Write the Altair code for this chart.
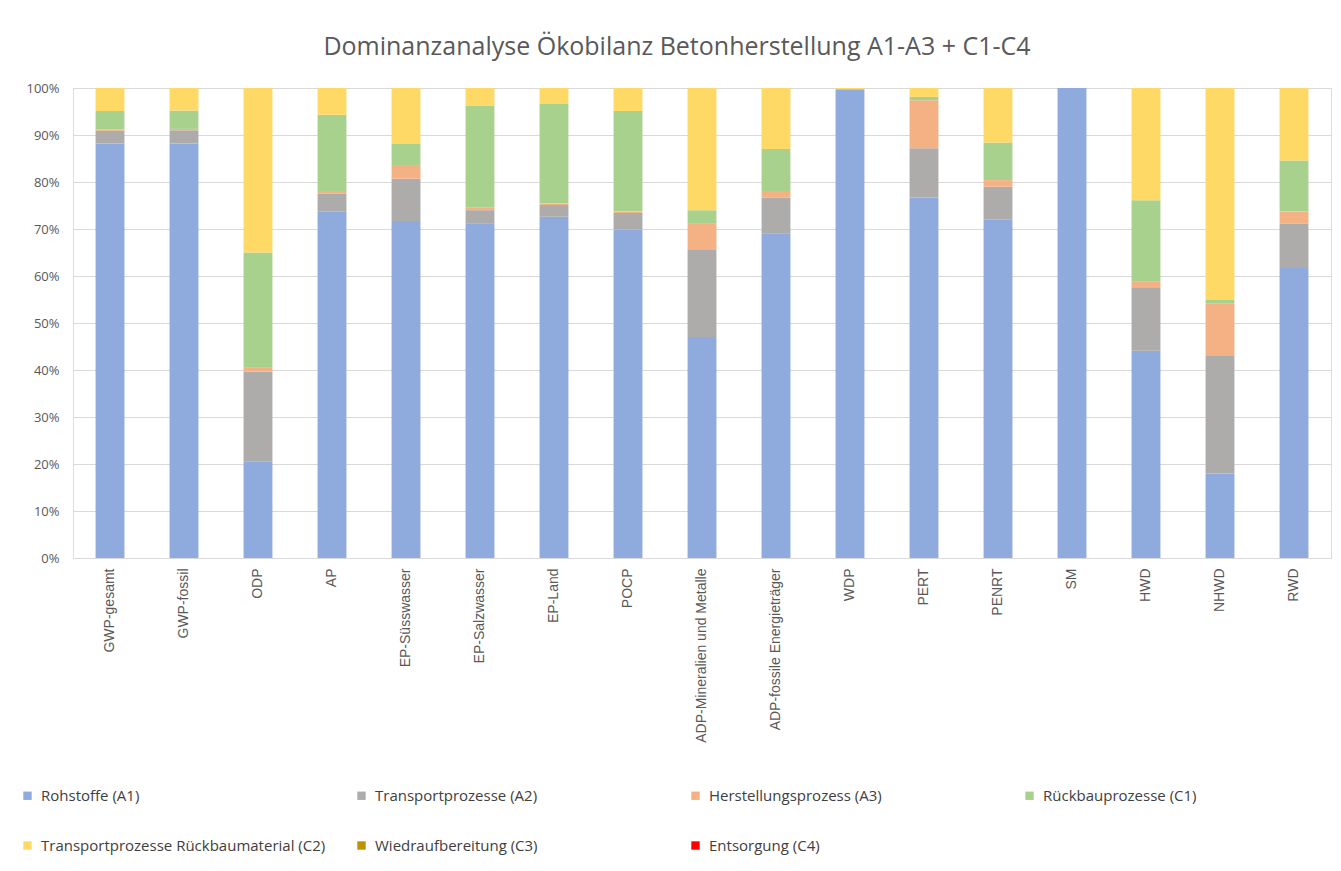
import altair as alt
import pandas as pd

categories = ["GWP-gesamt", "GWP-fossil", "ODP", "AP", "EP-Süsswasser", "EP-Salzwasser",
              "EP-Land", "POCP", "ADP-Mineralien und Metalle", "ADP-fossile Energieträger",
              "WDP", "PERT", "PENRT", "SM", "HWD", "NHWD", "RWD"]

series = ["Rohstoffe (A1)", "Transportprozesse (A2)", "Herstellungsprozess (A3)",
          "Rückbauprozesse (C1)", "Transportprozesse Rückbaumaterial (C2)",
          "Wiedraufbereitung (C3)", "Entsorgung (C4)"]

rohstoffe_a1 = [88.2, 88.2, 20.6, 73.8, 71.7, 71.1, 72.6, 69.9, 47.0, 69.1, 99.7, 76.7, 72.1, 100.0, 44.1, 18.0, 61.7]
transport_a2 = [2.7, 2.8, 19.1, 3.7, 9.0, 2.9, 2.5, 3.5, 18.7, 7.6, 0.1, 10.5, 6.9, 0.0, 13.5, 25.0, 9.4]
herstellung_a3 = [0.3, 0.3, 0.9, 0.6, 2.9, 0.5, 0.3, 0.3, 5.4, 1.4, 0.0, 10.2, 1.4, 0.0, 1.2, 11.1, 2.6]
rueckbau_c1 = [3.9, 3.9, 24.4, 16.2, 4.5, 21.8, 21.2, 21.4, 2.9, 8.9, 0.0, 0.7, 8.0, 0.0, 17.3, 0.8, 10.9]
transport_c2 = [4.9, 4.8, 35.0, 5.7, 11.9, 3.7, 3.4, 4.9, 26.0, 13.0, 0.2, 1.9, 11.6, 0.0, 23.9, 45.1, 15.4]
aufbereitung_c3 = [0.0] * 17
entsorgung_c4 = [0.0] * 17

colors = ["#8FAADC", "#AEABAB", "#F4B183", "#A9D18E", "#FFD966", "#BF9000", "#FF0000"]

all_values = [rohstoffe_a1, transport_a2, herstellung_a3, rueckbau_c1, transport_c2,
              aufbereitung_c3, entsorgung_c4]

rows = []
for si, (s, vals) in enumerate(zip(series, all_values)):
    for c, v in zip(categories, vals):
        rows.append({"Kategorie": c, "Phase": s, "Wert": v, "order": si})
df = pd.DataFrame(rows)

chart = alt.Chart(df).mark_bar().encode(
    x=alt.X("Kategorie:N", sort=categories, title=None,
            scale=alt.Scale(paddingInner=0.61, paddingOuter=0.305),
            axis=alt.Axis(labelAngle=-90, labelFont="Liberation Sans", labelFontSize=14,
                          labelColor="#595959", labelLimit=300, labelPadding=10,
                          ticks=False, domainColor="#D9D9D9", grid=False)),
    y=alt.Y("Wert:Q", stack="normalize", title=None,
            scale=alt.Scale(domain=[0, 1]),
            axis=alt.Axis(format=".0%", values=[0, 0.1, 0.2, 0.3, 0.4, 0.5, 0.6, 0.7, 0.8, 0.9, 1.0],
                          labelFont="Open Sans", labelFontSize=13, labelColor="#595959",
                          labelPadding=14, ticks=False, domain=False,
                          gridColor="#D9D9D9", gridWidth=1)),
    color=alt.Color("Phase:N", sort=series,
                    scale=alt.Scale(domain=series, range=colors),
                    legend=alt.Legend(title=None, orient="none", legendX=-53, legendY=700,
                                      columns=4, direction="horizontal", gridAlign="all",
                                      columnPadding=28, rowPadding=34,
                                      symbolType="square", symbolSize=70,
                                      symbolStrokeWidth=0, labelFont="Open Sans",
                                      labelFontSize=15, labelColor="#404040",
                                      labelLimit=400, symbolOffset=0, labelOffset=6)),
    order=alt.Order("order:Q", sort="ascending"),
).properties(
    width=1258, height=470,
    title=alt.TitleParams("Dominanzanalyse Ökobilanz Betonherstellung A1-A3 + C1-C4",
                          font="Open Sans", fontSize=25, fontWeight="normal",
                          color="#595959", anchor="middle", offset=22, dx=-25),
    autosize=alt.AutoSizeParams(type="none"),
    padding={"left": 65, "top": 80, "right": 2, "bottom": 305},
).configure_view(stroke=None).configure(background="white")

chart.save("out.html", embed_options={"renderer": "svg", "actions": False})
